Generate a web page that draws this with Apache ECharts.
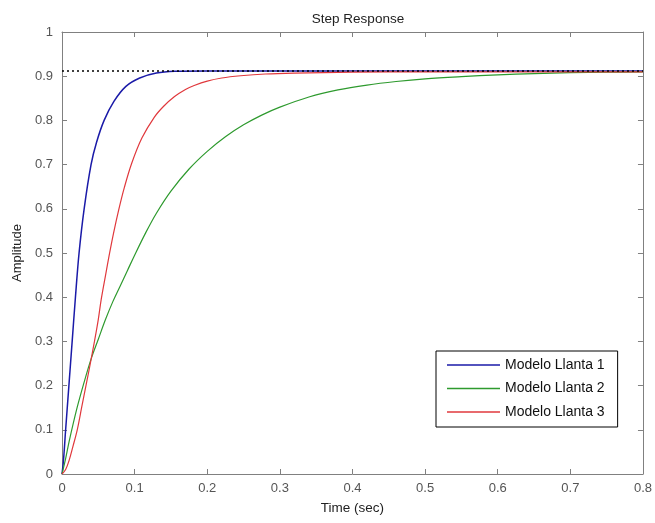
<!DOCTYPE html>
<html>
<head>
<meta charset="utf-8">
<script src="https://cdn.jsdelivr.net/npm/echarts@6/dist/echarts.min.js"></script>
<style>html,body{margin:0;padding:0;background:#fff;}#c{width:655px;height:523px;}</style>
</head>
<body>
<div id="c"></div>
<script>
// Data
var seriesNames = ['Modelo Llanta 1', 'Modelo Llanta 2', 'Modelo Llanta 3'];

var time1 = [0, 0.002, 0.005, 0.0095, 0.014, 0.0185, 0.0235, 0.0305, 0.040, 0.0475, 0.058, 0.0715, 0.088, 0.107, 0.13, 0.155, 0.2, 0.3, 0.5, 0.8];
var amp1  = [0, 0.03, 0.1, 0.2, 0.3, 0.4, 0.5, 0.6, 0.7, 0.75, 0.8, 0.843, 0.877, 0.896, 0.907, 0.911, 0.912, 0.912, 0.912, 0.912];

var time2 = [0, 0.005, 0.01, 0.02, 0.03, 0.04, 0.05, 0.06, 0.07, 0.08, 0.09, 0.1, 0.115, 0.13, 0.15, 0.175, 0.2, 0.225, 0.25, 0.275, 0.3, 0.34, 0.38, 0.42, 0.46, 0.5, 0.55, 0.6, 0.65, 0.7, 0.75, 0.8];
var amp2  = [0, 0.035, 0.075, 0.145, 0.205, 0.26, 0.305, 0.35, 0.39, 0.425, 0.46, 0.495, 0.545, 0.59, 0.64, 0.69, 0.73, 0.763, 0.79, 0.812, 0.83, 0.853, 0.869, 0.88, 0.888, 0.894, 0.899, 0.903, 0.906, 0.908, 0.909, 0.91];

var time3 = [0, 0.005, 0.01, 0.015, 0.021, 0.027, 0.033, 0.039, 0.0447, 0.05, 0.054, 0.06, 0.065, 0.071, 0.078, 0.086, 0.096, 0.11, 0.127, 0.14, 0.155, 0.17, 0.182, 0.2, 0.22, 0.246, 0.28, 0.32, 0.4, 0.5, 0.8];
var amp3  = [0, 0.01, 0.032, 0.062, 0.1, 0.15, 0.2, 0.25, 0.3, 0.35, 0.395, 0.45, 0.495, 0.545, 0.597, 0.649, 0.703, 0.76, 0.807, 0.832, 0.854, 0.87, 0.879, 0.889, 0.896, 0.901, 0.905, 0.907, 0.909, 0.91, 0.91];

var steadyTime = [0, 0.8];
var steadyAmp = [0.912, 0.912];

function pairs(t, v) { return t.map(function (x, i) { return [x, v[i]]; }); }

var colors = ['#1a1aa8', '#2e9a2e', '#e0383c'];
var font = 'Liberation Sans, Arial, sans-serif';
var axisGray = '#808080';
var labelColor = '#555';

function xAx(pos, showLabel, name) {
  return {
    type: 'value', position: pos, min: 0, max: 0.8, interval: 0.1,
    name: name || '', nameLocation: 'middle', nameGap: 27,
    nameTextStyle: { fontFamily: font, fontSize: 13.5, color: '#222' },
    axisLine: { show: true, onZero: false, lineStyle: { color: axisGray, width: 1 } },
    axisTick: { show: true, inside: true, length: 5, lineStyle: { color: axisGray } },
    axisLabel: { show: showLabel, fontFamily: font, fontSize: 13, color: labelColor, margin: 8 },
    splitLine: { show: false }
  };
}
function yAx(pos, showLabel, name) {
  return {
    type: 'value', position: pos, min: 0, max: 1, interval: 0.1,
    name: name || '', nameLocation: 'middle', nameGap: 37,
    nameTextStyle: { fontFamily: font, fontSize: 13, color: '#222' },
    axisLine: { show: true, onZero: false, lineStyle: { color: axisGray, width: 1 } },
    axisTick: { show: true, inside: true, length: 5, lineStyle: { color: axisGray } },
    axisLabel: { show: showLabel, fontFamily: font, fontSize: 13, color: labelColor, margin: 9 },
    splitLine: { show: false }
  };
}

function lineSeries(i, t, v, w) {
  return {
    name: seriesNames[i], type: 'line', data: pairs(t, v), showSymbol: false, symbol: 'none',
    smooth: 0.35,
    lineStyle: { color: colors[i], width: w }, itemStyle: { color: colors[i] }, z: 3
  };
}

var chart = echarts.init(document.getElementById('c'), null, { renderer: 'canvas' });
chart.setOption({
  backgroundColor: '#fff',
  animation: false,
  title: {
    text: 'Step Response', left: 353, top: 7, textAlign: 'center',
    textStyle: { fontFamily: font, fontSize: 13.5, fontWeight: 'normal', color: '#222' }
  },
  grid: { left: 62, right: 11, top: 32, bottom: 49 },
  xAxis: [xAx('bottom', true, 'Time (sec)'), xAx('top', false)],
  yAxis: [yAx('left', true, 'Amplitude'), yAx('right', false)],
  legend: {
    data: seriesNames, orient: 'vertical', left: 436, top: 351,
    icon: 'rect', itemWidth: 53, itemHeight: 1.5, itemGap: 7.5,
    padding: [6, 13, 7, 11],
    borderColor: '#000', borderWidth: 1, backgroundColor: '#fff',
    textStyle: { fontFamily: font, fontSize: 14, color: '#111', lineHeight: 16 }
  },
  series: [
    lineSeries(0, time1, amp1, 1.5),
    lineSeries(1, time2, amp2, 1.2),
    lineSeries(2, time3, amp3, 1.2),
    { name: 'steady', type: 'line', data: pairs(steadyTime, steadyAmp), showSymbol: false, symbol: 'none', lineStyle: { color: '#000', width: 1.5, type: [2, 3] }, z: 4, silent: true }
  ]
});
</script>
</body>
</html>
